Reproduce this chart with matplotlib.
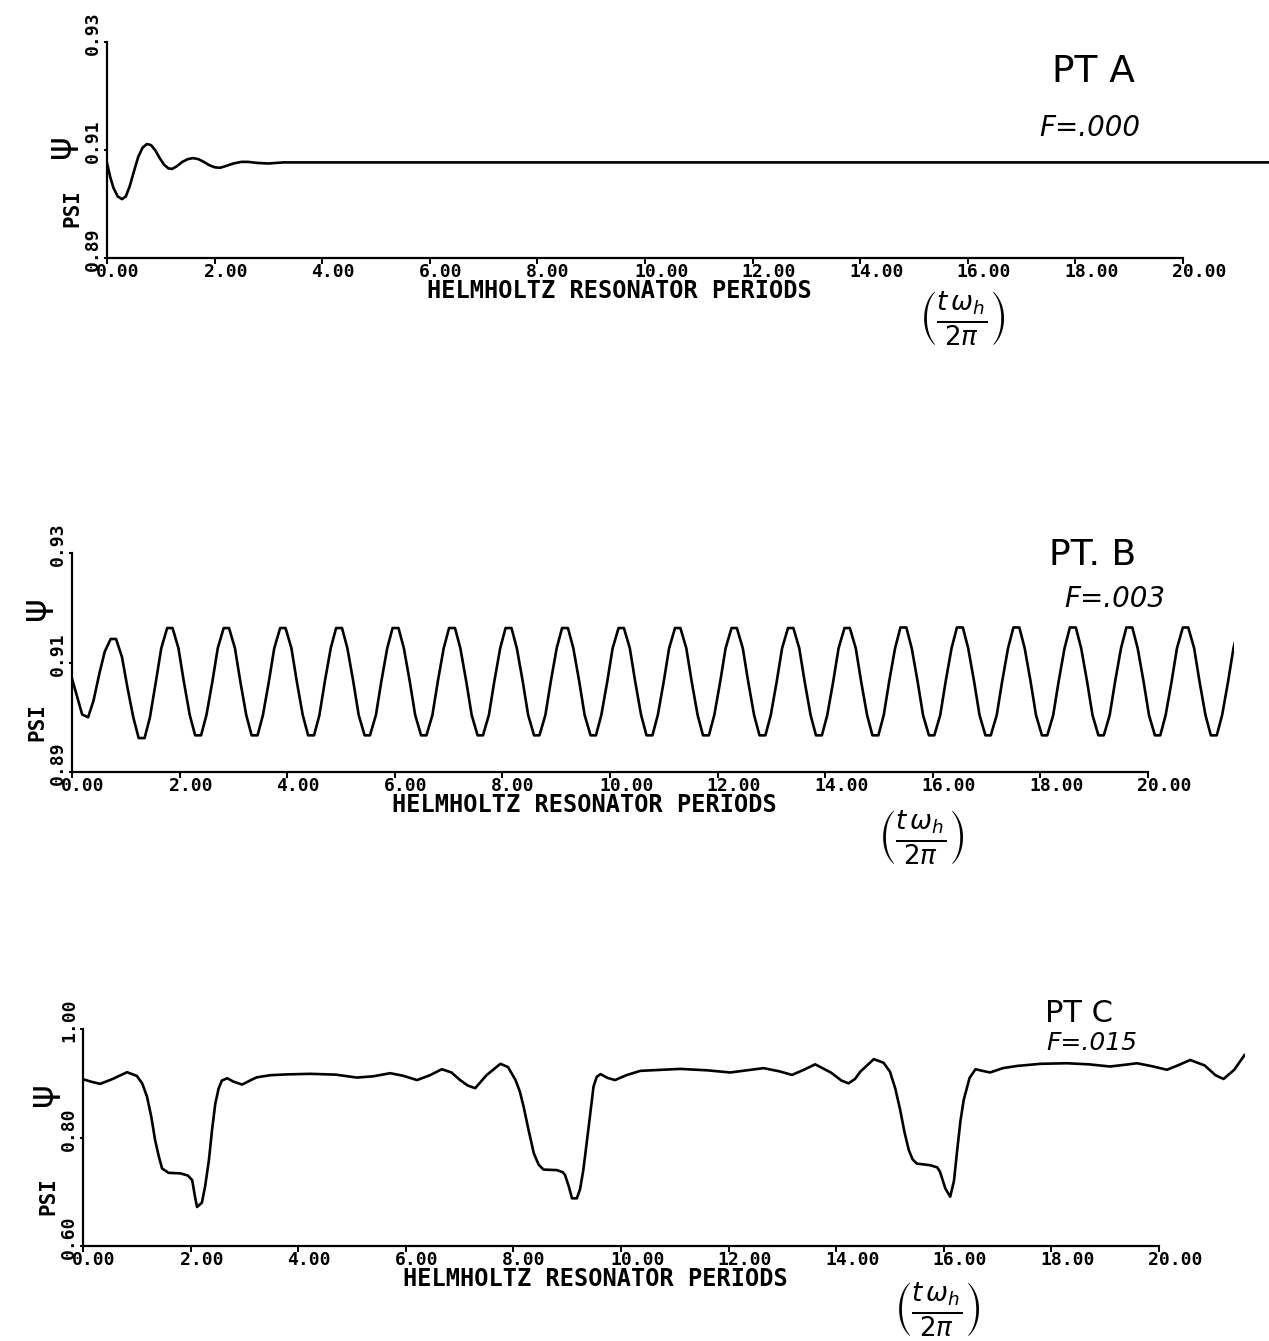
import matplotlib
matplotlib.use('Agg')
import matplotlib.pyplot as plt
import matplotlib.transforms as mtransforms

# ---------------- data read from the plotter output ----------------
xticks = [0, 2, 4, 6, 8, 10, 12, 14, 16, 18, 20]
xtick_labels = ['0.00', '2.00', '4.00', '6.00', '8.00', '10.00',
                '12.00', '14.00', '16.00', '18.00', '20.00']

# PT A, F=.000 : damped, settles at ~0.9077
t_a = [0.00, 0.06, 0.12, 0.20, 0.28, 0.35, 0.42, 0.50, 0.58, 0.66, 0.74, 0.82,
       0.90, 0.98, 1.06, 1.14, 1.21, 1.30, 1.40, 1.50, 1.60, 1.70, 1.80, 1.90,
       2.00, 2.10, 2.20, 2.35, 2.50, 2.62, 2.80, 3.00, 3.28, 21.70]
psi_a = [0.9076, 0.9050, 0.9030, 0.9014, 0.9009, 0.9014, 0.9032, 0.9060, 0.9087, 0.9104, 0.9111, 0.9109,
         0.9099, 0.9085, 0.9073, 0.9066, 0.9065, 0.9070, 0.9078, 0.9083, 0.9085, 0.9083, 0.9078, 0.9072,
         0.9068, 0.9067, 0.9070, 0.9075, 0.9078, 0.9078, 0.9076, 0.9075, 0.9077, 0.9077]
yticks_a = [0.89, 0.91, 0.93]
ytick_labels_a = ['0.89', '0.91', '0.93']

# PT B, F=.003 : sustained oscillation, one row per cycle
t_b = [0.00,
       0.09, 0.19, 0.30, 0.40, 0.51, 0.61, 0.72, 0.82, 0.93, 1.03,
       1.14, 1.24, 1.35, 1.45, 1.56, 1.66, 1.77, 1.87, 1.98, 2.08,
       2.19, 2.29, 2.40, 2.50, 2.61, 2.71, 2.82, 2.92, 3.03, 3.13,
       3.24, 3.34, 3.45, 3.55, 3.66, 3.76, 3.87, 3.97, 4.08, 4.18,
       4.29, 4.39, 4.50, 4.60, 4.70, 4.81, 4.91, 5.02, 5.12, 5.23,
       5.33, 5.44, 5.54, 5.65, 5.75, 5.86, 5.96, 6.07, 6.17, 6.28,
       6.38, 6.49, 6.59, 6.70, 6.80, 6.91, 7.01, 7.12, 7.22, 7.33,
       7.43, 7.54, 7.64, 7.75, 7.85, 7.96, 8.06, 8.17, 8.27, 8.38,
       8.48, 8.59, 8.69, 8.80, 8.90, 9.01, 9.11, 9.22, 9.32, 9.43,
       9.53, 9.64, 9.74, 9.84, 9.95, 10.05, 10.16, 10.26, 10.37, 10.47,
       10.58, 10.68, 10.79, 10.89, 11.00, 11.10, 11.21, 11.31, 11.42, 11.52,
       11.63, 11.73, 11.84, 11.94, 12.05, 12.15, 12.26, 12.36, 12.47, 12.57,
       12.68, 12.78, 12.89, 12.99, 13.10, 13.20, 13.31, 13.41, 13.52, 13.62,
       13.73, 13.83, 13.94, 14.04, 14.15, 14.25, 14.36, 14.46, 14.57, 14.67,
       14.78, 14.88, 14.99, 15.09, 15.19, 15.30, 15.40, 15.51, 15.61, 15.72,
       15.82, 15.93, 16.03, 16.14, 16.24, 16.35, 16.45, 16.56, 16.66, 16.77,
       16.87, 16.98, 17.08, 17.19, 17.29, 17.40, 17.50, 17.61, 17.71, 17.82,
       17.92, 18.03, 18.13, 18.24, 18.34, 18.45, 18.55, 18.66, 18.76, 18.87,
       18.97, 19.08, 19.18, 19.29, 19.39, 19.50, 19.60, 19.71, 19.81, 19.92,
       20.02, 20.13, 20.23, 20.33, 20.44, 20.54, 20.65, 20.75, 20.86, 20.96,
       21.07, 21.17, 21.28, 21.38, 21.49, 21.59, 21.62]
psi_b = [0.9071,
         0.9040, 0.9005, 0.9000, 0.9030, 0.9080, 0.9120, 0.9143, 0.9143, 0.9110, 0.9055,
         0.9000, 0.8962, 0.8962, 0.9000, 0.9065, 0.9126, 0.9163, 0.9163, 0.9126, 0.9065,
         0.9004, 0.8967, 0.8967, 0.9004, 0.9065, 0.9126, 0.9163, 0.9163, 0.9126, 0.9065,
         0.9004, 0.8967, 0.8967, 0.9004, 0.9065, 0.9126, 0.9163, 0.9163, 0.9126, 0.9065,
         0.9004, 0.8967, 0.8967, 0.9004, 0.9065, 0.9126, 0.9163, 0.9163, 0.9126, 0.9065,
         0.9004, 0.8967, 0.8967, 0.9004, 0.9065, 0.9126, 0.9163, 0.9163, 0.9126, 0.9065,
         0.9004, 0.8967, 0.8967, 0.9004, 0.9065, 0.9126, 0.9163, 0.9163, 0.9126, 0.9065,
         0.9004, 0.8967, 0.8967, 0.9004, 0.9065, 0.9126, 0.9163, 0.9163, 0.9126, 0.9065,
         0.9004, 0.8967, 0.8967, 0.9004, 0.9065, 0.9126, 0.9163, 0.9163, 0.9126, 0.9065,
         0.9004, 0.8967, 0.8967, 0.9004, 0.9065, 0.9126, 0.9163, 0.9163, 0.9126, 0.9065,
         0.9004, 0.8967, 0.8967, 0.9004, 0.9065, 0.9126, 0.9163, 0.9163, 0.9126, 0.9065,
         0.9004, 0.8967, 0.8967, 0.9004, 0.9065, 0.9126, 0.9163, 0.9163, 0.9126, 0.9065,
         0.9004, 0.8967, 0.8967, 0.9004, 0.9065, 0.9126, 0.9163, 0.9163, 0.9126, 0.9065,
         0.9004, 0.8967, 0.8967, 0.9004, 0.9065, 0.9126, 0.9163, 0.9163, 0.9126, 0.9065,
         0.9004, 0.8967, 0.8967, 0.9004, 0.9065, 0.9126, 0.9164, 0.9164, 0.9126, 0.9065,
         0.9004, 0.8967, 0.8967, 0.9004, 0.9065, 0.9126, 0.9164, 0.9164, 0.9126, 0.9065,
         0.9004, 0.8967, 0.8967, 0.9004, 0.9065, 0.9126, 0.9164, 0.9164, 0.9126, 0.9065,
         0.9004, 0.8967, 0.8967, 0.9004, 0.9065, 0.9126, 0.9164, 0.9164, 0.9126, 0.9065,
         0.9004, 0.8967, 0.8967, 0.9004, 0.9065, 0.9126, 0.9164, 0.9164, 0.9126, 0.9065,
         0.9004, 0.8967, 0.8967, 0.9004, 0.9065, 0.9126, 0.9164, 0.9164, 0.9126, 0.9065,
         0.9004, 0.8967, 0.8967, 0.9004, 0.9065, 0.9126, 0.9138]
yticks_b = [0.89, 0.91, 0.93]
ytick_labels_b = ['0.89', '0.91', '0.93']

# PT C, F=.015 : relaxation type dips
t_c = [0.00, 0.15, 0.32, 0.55, 0.82, 1.00, 1.10, 1.19, 1.27, 1.34, 1.41, 1.47, 1.59,
       1.81, 1.95, 2.03, 2.08, 2.12, 2.21, 2.27, 2.34, 2.40, 2.46, 2.52, 2.58,
       2.68, 2.80, 2.96, 3.10, 3.23, 3.48, 3.80, 4.23, 4.70, 5.09, 5.40, 5.71,
       5.95, 6.21, 6.45, 6.67, 6.85, 7.01, 7.15, 7.29, 7.50, 7.76, 7.90, 8.04,
       8.12, 8.19, 8.28, 8.38, 8.47, 8.56, 8.81, 8.92, 8.96, 9.03, 9.09, 9.18,
       9.24, 9.30, 9.40, 9.49, 9.55, 9.62, 9.75, 9.89, 10.10, 10.36, 11.10, 11.60,
       12.03, 12.65, 12.95, 13.18, 13.40, 13.61, 13.90, 14.10, 14.23, 14.35, 14.45,
       14.70, 14.88, 15.00, 15.10, 15.19, 15.27, 15.35, 15.42, 15.50, 15.75, 15.88,
       15.93, 16.03, 16.12, 16.19, 16.25, 16.31, 16.37, 16.48, 16.59, 16.72, 16.86,
       17.10, 17.36, 17.80, 18.29, 18.70, 19.09, 19.35, 19.59, 19.85, 20.15,
       20.35, 20.58, 20.85, 21.05, 21.20, 21.40, 21.59]
psi_c = [0.9076, 0.9030, 0.8990, 0.9080, 0.9205, 0.9137, 0.9000, 0.8755, 0.8380, 0.7954, 0.7650, 0.7430, 0.7350,
         0.7340, 0.7300, 0.7215, 0.6920, 0.6720, 0.6800, 0.7100, 0.7580, 0.8150, 0.8630, 0.8900, 0.9050,
         0.9094, 0.9030, 0.8977, 0.9050, 0.9110, 0.9150, 0.9165, 0.9175, 0.9160, 0.9106, 0.9130, 0.9187,
         0.9140, 0.9060, 0.9150, 0.9260, 0.9200, 0.9060, 0.8960, 0.8910, 0.9150, 0.9360, 0.9300, 0.9060,
         0.8850, 0.8570, 0.8150, 0.7710, 0.7500, 0.7410, 0.7400, 0.7360, 0.7310, 0.7100, 0.6880, 0.6880,
         0.7050, 0.7400, 0.8200, 0.8940, 0.9120, 0.9170, 0.9100, 0.9060, 0.9150, 0.9230, 0.9266, 0.9240,
         0.9200, 0.9280, 0.9220, 0.9155, 0.9250, 0.9350, 0.9200, 0.9050, 0.9000, 0.9080, 0.9216,
         0.9446, 0.9380, 0.9216, 0.8900, 0.8510, 0.8100, 0.7770, 0.7600, 0.7520, 0.7490, 0.7450,
         0.7370, 0.7060, 0.6910, 0.7200, 0.7770, 0.8300, 0.8690, 0.9100, 0.9260, 0.9230, 0.9200,
         0.9280, 0.9320, 0.9360, 0.9370, 0.9350, 0.9310, 0.9340, 0.9370, 0.9320, 0.9250,
         0.9330, 0.9430, 0.9330, 0.9150, 0.9080, 0.9250, 0.9520]
yticks_c = [0.60, 0.80, 1.00]
ytick_labels_c = ['0.60', '0.80', '1.00']

# ---------------- figure ----------------
DPI = 100
fig = plt.figure(figsize=(12.69, 13.41), dpi=DPI)
fig.patch.set_facecolor('white')

mono = {'family': 'DejaVu Sans Mono', 'weight': 'bold'}
hand = {'family': 'DejaVu Sans'}
frac = r'$\left(\frac{t\,\omega_h}{2\pi}\right)$'

# rect (figure fraction), data, y ticks, handwritten notes (x, y in axes fraction)
panels = [
    dict(rect=[0.0843, 0.8076, 0.9157, 0.1611], t=t_a, psi=psi_a,
         yt=yticks_a, ylab=ytick_labels_a,
         pt=('PT A', 0.849, 0.86, 27), f=('F=.000', 0.846, 0.60, 20), frac=(0.736, -0.282),
         psi_mark=(-0.040, 0.52)),
    dict(rect=[0.0567, 0.4243, 0.9157, 0.1633], t=t_b, psi=psi_b,
         yt=yticks_b, ylab=ytick_labels_b,
         pt=('PT. B', 0.878, 0.99, 26), f=('F=.003', 0.897, 0.79, 20), frac=(0.731, -0.30),
         psi_mark=(-0.032, 0.75)),
    dict(rect=[0.0654, 0.0708, 0.9157, 0.1618], t=t_c, psi=psi_c,
         yt=yticks_c, ylab=ytick_labels_c,
         pt=('PT C', 0.857, 1.07, 22), f=('F=.015', 0.868, 0.935, 18), frac=(0.735, -0.295),
         psi_mark=(-0.035, 0.70)),
]

for p in panels:
    ax = fig.add_axes(p['rect'])
    ax.plot(p['t'], p['psi'], color='black', lw=1.9, solid_joinstyle='round')
    ax.set_xlim(0, 21.6)
    ax.set_ylim(p['yt'][0], p['yt'][-1])

    ax.spines['top'].set_visible(False)
    ax.spines['right'].set_visible(False)
    ax.spines['left'].set_linewidth(1.6)
    ax.spines['bottom'].set_linewidth(1.6)
    ax.spines['bottom'].set_bounds(0, 20)

    ax.set_xticks(xticks)
    ax.set_yticks(p['yt'])
    ax.set_xticklabels([])
    ax.set_yticklabels([])
    ax.tick_params(axis='x', direction='out', length=4, width=1.4)
    ax.tick_params(axis='y', direction='out', length=2.5, width=1.4)

    # plotter style tick labels: text starts a little before the tick
    xtr = mtransforms.blended_transform_factory(ax.transData, ax.transAxes)
    for x, lbl in zip(xticks, xtick_labels):
        ax.text(x, 0, lbl, fontsize=13, ha='left', va='top',
                transform=mtransforms.offset_copy(xtr, fig=fig, x=-11, y=-5, units='dots'),
                **mono)
    ytr = mtransforms.blended_transform_factory(ax.transAxes, ax.transData)
    for y, lbl in zip(p['yt'], p['ylab']):
        ax.text(0, y, lbl, fontsize=13, rotation=90, rotation_mode='anchor',
                ha='left', va='baseline',
                transform=mtransforms.offset_copy(ytr, fig=fig, x=-9, y=-13, units='dots'),
                **mono)

    ax.text(0, 0.23, 'PSI', fontsize=15, rotation=90, ha='center', va='center',
            transform=mtransforms.offset_copy(ax.transAxes, fig=fig, x=-35, y=0, units='dots'),
            **mono)
    ax.text(9.53, 0, 'HELMHOLTZ RESONATOR PERIODS', fontsize=17, ha='center', va='center',
            transform=mtransforms.offset_copy(xtr, fig=fig, x=0, y=-33, units='dots'),
            **mono)

    # handwritten annotations
    ax.text(p['psi_mark'][0], p['psi_mark'][1], '\u03c8', fontsize=26, rotation=90,
            ha='center', va='center', transform=ax.transAxes, clip_on=False, **hand)
    ax.text(p['pt'][1], p['pt'][2], p['pt'][0], fontsize=p['pt'][3], ha='center', va='center',
            transform=ax.transAxes, clip_on=False, **hand)
    ax.text(p['f'][1], p['f'][2], p['f'][0], fontsize=p['f'][3], style='italic',
            ha='center', va='center', transform=ax.transAxes, clip_on=False, **hand)
    ax.text(p['frac'][0], p['frac'][1], frac, fontsize=27, ha='center', va='center',
            transform=ax.transAxes, clip_on=False)

fig.savefig('out.png', dpi=DPI, facecolor='white')
